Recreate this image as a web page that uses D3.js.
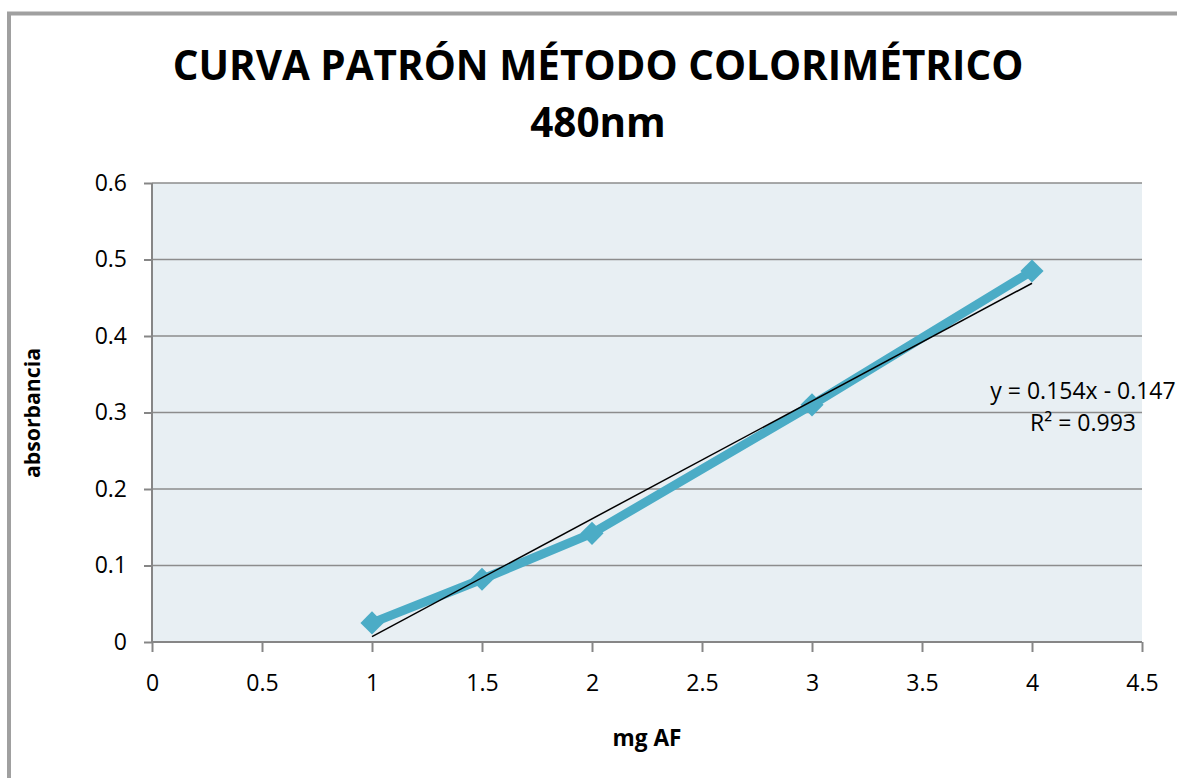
<!DOCTYPE html>
<html><head><meta charset="utf-8">
<script src="https://cdn.jsdelivr.net/npm/d3@7"></script>
<style>html,body{margin:0;padding:0;background:#fff;}svg{display:block;}</style>
</head><body>
<script>
const xValues = [1, 1.5, 2, 3, 4];
const yValues = [0.025, 0.082, 0.142, 0.31, 0.485];
const xTicks = [0, 0.5, 1, 1.5, 2, 2.5, 3, 3.5, 4, 4.5];
const yTicks = [0, 0.1, 0.2, 0.3, 0.4, 0.5, 0.6];
const trendCoef = [0.154, -0.147];
const titleLines = ["CURVA PATRÓN MÉTODO COLORIMÉTRICO", "480nm"];
const eqLines = ["y = 0.154x - 0.147", "R² = 0.993"];

const W = 1177, H = 778;
const font = "'Open Sans', sans-serif";
const svg = d3.select("body").append("svg").attr("width", W).attr("height", H);

function fit(sel, target) {
  const n = sel.node();
  const fs = parseFloat(sel.attr("font-size"));
  const w = n.getComputedTextLength();
  if (w > 0) sel.attr("font-size", fs * target / w);
}

// outer chart border (clipped)
svg.append("rect").attr("x", 9).attr("y", 13.5).attr("width", 1300).attr("height", 900)
  .attr("fill", "none").attr("stroke", "#a0a0a0").attr("stroke-width", 4);

const x = d3.scaleLinear().domain([0, 4.5]).range([152, 1142]);
const y = d3.scaleLinear().domain([0, 0.6]).range([642, 183]);

svg.append("rect").attr("x", x(0)).attr("y", y(0.6)).attr("width", x(4.5) - x(0)).attr("height", y(0) - y(0.6))
  .attr("fill", "#e8eff3");

// gridlines
svg.append("g").selectAll("line").data(yTicks.slice(1)).join("line")
  .attr("x1", x(0)).attr("x2", x(4.5)).attr("y1", d => y(d)).attr("y2", d => y(d))
  .attr("stroke", "#8c8c8c").attr("stroke-width", 1.5);

// axes
const xAxis = d3.axisBottom(x).tickValues(xTicks).tickFormat(d => d).tickSize(10).tickPadding(23);
const yAxis = d3.axisLeft(y).tickValues(yTicks).tickFormat(d => d).tickSize(8).tickPadding(17);
const gx = svg.append("g").attr("transform", `translate(0,${y(0)})`).call(xAxis);
const gy = svg.append("g").attr("transform", `translate(${x(0)},0)`).call(yAxis);
[gx, gy].forEach(g => {
  g.select(".domain").remove();
  g.selectAll("line").attr("stroke", "#868686").attr("stroke-width", 2);
  g.selectAll("text").attr("font-family", font).attr("font-size", 23).attr("fill", "#000");
});
svg.append("line").attr("x1", x(0)).attr("x2", x(4.5)).attr("y1", y(0)).attr("y2", y(0))
  .attr("stroke", "#868686").attr("stroke-width", 2);
svg.append("line").attr("x1", x(0)).attr("x2", x(0)).attr("y1", y(0)).attr("y2", y(0.6))
  .attr("stroke", "#868686").attr("stroke-width", 2);

// series line
const pts = xValues.map((v, i) => [v, yValues[i]]);
svg.append("path").datum(pts)
  .attr("d", d3.line().x(d => x(d[0])).y(d => y(d[1])))
  .attr("fill", "none").attr("stroke", "#4bacc6").attr("stroke-width", 9).attr("stroke-linejoin", "round");
// markers
svg.append("g").selectAll("path").data(pts).join("path")
  .attr("d", d3.symbol(d3.symbolDiamond2, 340)())
  .attr("transform", d => `translate(${x(d[0])},${y(d[1])})`)
  .attr("fill", "#4bacc6");

// trendline
const tx = [d3.min(xValues), d3.max(xValues)];
svg.append("line")
  .attr("x1", x(tx[0])).attr("y1", y(trendCoef[0] * tx[0] + trendCoef[1]))
  .attr("x2", x(tx[1])).attr("y2", y(trendCoef[0] * tx[1] + trendCoef[1]))
  .attr("stroke", "#000").attr("stroke-width", 1.5);

// equation
svg.append("g").selectAll("text").data(eqLines).join("text")
  .attr("x", 1083).attr("y", (d, i) => 399 + i * 32).attr("text-anchor", "middle")
  .attr("font-family", font).attr("font-size", 23).text(d => d);

// title
const t1 = svg.append("text").attr("x", 598).attr("y", 80).attr("text-anchor", "middle")
  .attr("font-family", font).attr("font-weight", "bold").attr("font-size", 40).text(titleLines[0]);
fit(t1, 851);
const t2 = svg.append("text").attr("x", 598).attr("y", 137).attr("text-anchor", "middle")
  .attr("font-family", font).attr("font-weight", "bold").attr("font-size", +t1.attr("font-size")).text(titleLines[1]);

// axis titles
const ax = svg.append("text").attr("x", 647).attr("y", 746).attr("text-anchor", "middle")
  .attr("font-family", font).attr("font-weight", "bold").attr("font-size", 18).text("mg AF");
fit(ax, 69);
const ay = svg.append("text").attr("transform", "translate(40,413) rotate(-90)").attr("text-anchor", "middle")
  .attr("font-family", font).attr("font-weight", "bold").attr("font-size", 18).text("absorbancia");
fit(ay, 130);
</script>
</body></html>
